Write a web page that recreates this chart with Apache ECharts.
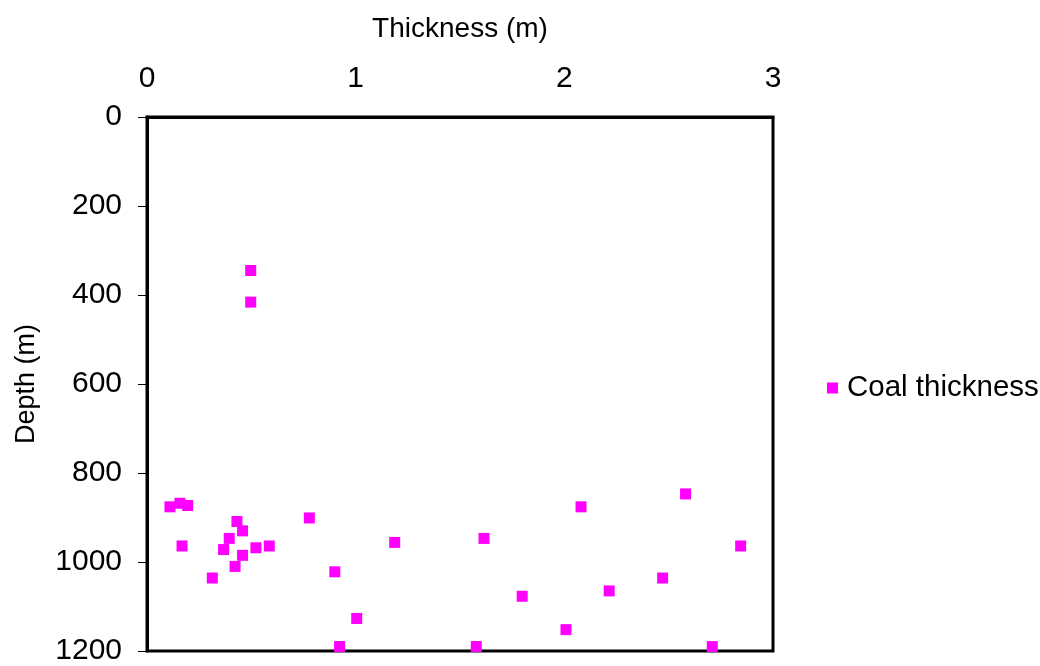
<!DOCTYPE html>
<html>
<head>
<meta charset="utf-8">
<script src="https://cdn.jsdelivr.net/npm/echarts@6/dist/echarts.min.js"></script>
<style>
html,body{margin:0;padding:0;background:#fff;}
#chart{width:1040px;height:666px;}
</style>
</head>
<body>
<div id="chart"></div>
<script>
// Coal seam data
var thickness = [0.11, 0.158, 0.195, 0.168, 0.431, 0.458, 0.394, 0.367, 0.458, 0.522,
                 0.586, 0.422, 0.313, 0.778, 0.9, 1.005, 0.923, 1.187, 1.615, 2.08,
                 2.581, 2.845, 2.471, 2.215, 1.798, 2.008, 1.578, 2.709, 0.497, 0.497];
var depth = [876, 868, 873, 964, 909, 930, 947, 972, 985, 968,
             964, 1010, 1036, 901, 1022, 1127, 1190, 956, 947, 876,
             847, 964, 1036, 1065, 1077, 1152, 1190, 1190, 345, 416];
var seriesName = 'Coal thickness';
var xTitle = 'Thickness (m)';
var yTitle = 'Depth (m)';

var points = thickness.map(function (t, i) { return [t, depth[i]]; });
var FONT = '"Liberation Sans", Arial, sans-serif';

var chart = echarts.init(document.getElementById('chart'));
chart.setOption({
  backgroundColor: '#fff',
  animation: false,
  grid: {
    left: 147, top: 117, right: 267, bottom: 14,
    show: true, borderColor: '#000', borderWidth: 3, backgroundColor: 'transparent'
  },
  legend: {
    data: [seriesName],
    left: 822, top: 368,
    orient: 'vertical',
    icon: 'rect',
    itemWidth: 11, itemHeight: 11,
    textStyle: { fontFamily: FONT, fontSize: 29.5, color: '#000', padding: [0, 0, 0, 4] }
  },
  xAxis: {
    type: 'value', position: 'top',
    min: 0, max: 3, interval: 1,
    name: xTitle, nameLocation: 'middle', nameGap: 74,
    nameTextStyle: { fontFamily: FONT, fontSize: 28, color: '#000' },
    axisLine: { show: true, lineStyle: { color: '#000', width: 3 } },
    axisTick: { show: false },
    splitLine: { show: false },
    axisLabel: { fontFamily: FONT, fontSize: 30, color: '#000', margin: 23 }
  },
  yAxis: {
    type: 'value', inverse: true,
    min: 0, max: 1200, interval: 200,
    name: yTitle, nameLocation: 'middle', nameGap: 107, nameRotate: 90,
    nameTextStyle: { fontFamily: FONT, fontSize: 27, color: '#000' },
    axisLine: { show: true, lineStyle: { color: '#000', width: 3 } },
    axisTick: { show: true, inside: false, length: 9, lineStyle: { color: '#000', width: 1 } },
    splitLine: { show: false },
    axisLabel: {
      fontFamily: FONT, fontSize: 30, color: '#000', margin: 25,
      padding: [4, 0, 0, 0],
      formatter: function (v) { return String(v); }
    }
  },
  series: [{
    name: seriesName,
    type: 'scatter',
    data: points,
    symbol: 'rect',
    symbolSize: 11,
    clip: false,
    itemStyle: { color: '#FF00FF', opacity: 1 }
  }]
});
</script>
</body>
</html>
